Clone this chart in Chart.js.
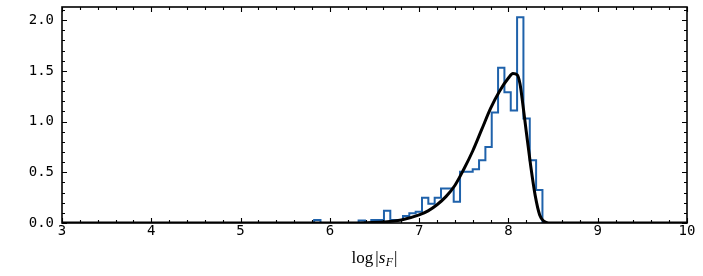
<!DOCTYPE html>
<html>
<head>
<meta charset="utf-8">
<script src="https://cdn.jsdelivr.net/npm/chart.js@4.4.1/dist/chart.umd.min.js"></script>
<style>
html, body { margin: 0; padding: 0; background: #fff; }
#wrap { width: 703px; height: 276px; }
</style>
</head>
<body>
<div id="wrap"><canvas id="chart" width="703" height="276"></canvas></div>
<script>
// histogram of log|s_F| (density)
const binEdges = [5.753, 5.824, 5.895, 5.966, 6.037, 6.108, 6.180, 6.251, 6.322, 6.393,
    6.464, 6.535, 6.606, 6.677, 6.748, 6.819, 6.890, 6.961, 7.032, 7.103,
    7.174, 7.245, 7.316, 7.387, 7.458, 7.529, 7.600, 7.671, 7.742, 7.813,
    7.884, 7.955, 8.026, 8.097, 8.168, 8.239, 8.310, 8.381];
const binHeights = [0, 0.03, 0, 0, 0, 0, 0, 0, 0.025, 0,
    0.03, 0.03, 0.12, 0.03, 0.03, 0.07, 0.095, 0.11, 0.25, 0.19,
    0.25, 0.34, 0.34, 0.21, 0.505, 0.505, 0.53, 0.62, 0.75, 1.09,
    1.53, 1.29, 1.11, 2.03, 1.03, 0.62, 0.325];

// fitted density curve
const curveX = [3, 6.0, 6.4, 6.6, 6.8, 7.0, 7.1, 7.2, 7.3, 7.4, 7.5, 7.6, 7.7, 7.8, 7.9,
    8.0, 8.05, 8.1, 8.13, 8.16, 8.2, 8.25, 8.3, 8.35, 8.4, 8.45, 10];
const curveY = [0, 0, 0.003, 0.01, 0.03, 0.08, 0.12, 0.18, 0.26, 0.37, 0.53, 0.71, 0.92, 1.13, 1.30,
    1.43, 1.475, 1.46, 1.37, 1.18, 0.9, 0.56, 0.27, 0.08, 0.015, 0, 0];

const xTicks = [3, 4, 5, 6, 7, 8, 9, 10];
const yTicks = [0, 0.5, 1.0, 1.5, 2.0];

const histPoints = [{ x: binEdges[0], y: 0 }];
binHeights.forEach((h, i) => histPoints.push({ x: binEdges[i], y: h }));
histPoints.push({ x: binEdges[binEdges.length - 1], y: 0 });

const curvePoints = curveX.map((x, i) => ({ x: x, y: curveY[i] }));

// inward ticks on all four sides, frame and the math-style x title
const framePlugin = {
    id: "frame",
    afterDraw(chart) {
        const ctx = chart.ctx;
        const a = chart.chartArea;
        const xs = chart.scales.x, ys = chart.scales.y;
        ctx.save();
        ctx.strokeStyle = "#000";
        ctx.lineWidth = 1.1;
        ctx.beginPath();
        for (let v = 3; v <= 10.0001; v += 0.2) {
            const px = Math.round(xs.getPixelForValue(v)) + 0.5;
            const major = Math.abs(v - Math.round(v)) < 1e-6;
            const len = major ? 5 : 3;
            ctx.moveTo(px, a.bottom); ctx.lineTo(px, a.bottom - len);
            ctx.moveTo(px, a.top); ctx.lineTo(px, a.top + len);
        }
        for (let v = 0; v <= 2.1301; v += 0.1) {
            const py = Math.round(ys.getPixelForValue(v)) + 0.5;
            const major = Math.abs(v * 2 - Math.round(v * 2)) < 1e-6;
            const len = major ? 5 : 3;
            ctx.moveTo(a.left, py); ctx.lineTo(a.left + len, py);
            ctx.moveTo(a.right, py); ctx.lineTo(a.right - len, py);
        }
        ctx.stroke();
        ctx.lineWidth = 1.6;
        ctx.strokeRect(a.left, a.top, a.right - a.left, a.bottom - a.top);

        // x title: log|s_F|
        const parts = [
            { t: "log", f: "17px 'Liberation Serif'", dy: 0, gap: 2 },
            { t: "|", f: "17px 'Liberation Serif'", dy: 0, gap: 0 },
            { t: "s", f: "italic 17px 'Liberation Serif'", dy: 0, gap: 0.5 },
            { t: "F", f: "italic 12px 'Liberation Serif'", dy: 3, gap: 1 },
            { t: "|", f: "17px 'Liberation Serif'", dy: 0, gap: 0 }
        ];
        let total = 0;
        parts.forEach(p => { ctx.font = p.f; p.w = ctx.measureText(p.t).width; total += p.w + p.gap; });
        let x = (a.left + a.right) / 2 - total / 2;
        const base = 263;
        ctx.fillStyle = "#000";
        ctx.textBaseline = "alphabetic";
        ctx.textAlign = "left";
        parts.forEach(p => { ctx.font = p.f; ctx.fillText(p.t, x, base + p.dy); x += p.w + p.gap; });
        ctx.restore();
    }
};

new Chart(document.getElementById("chart"), {
    type: "line",
    data: {
        datasets: [
            {
                label: "fit",
                data: curvePoints,
                borderColor: "#000",
                borderWidth: 3,
                pointRadius: 0,
                cubicInterpolationMode: "monotone",
                fill: false,
                order: 0
            },
            {
                label: "hist",
                data: histPoints,
                borderColor: "#1f62ab",
                borderWidth: 2,
                pointRadius: 0,
                stepped: "before",
                fill: false,
                order: 1
            }
        ]
    },
    options: {
        responsive: false,
        animation: false,
        devicePixelRatio: 1,
        layout: { padding: { left: 0, right: 16, top: 7, bottom: 0 } },
        plugins: { legend: { display: false }, tooltip: { enabled: false } },
        scales: {
            x: {
                type: "linear",
                min: 3,
                max: 10,
                grid: { display: false, drawTicks: false },
                border: { display: false },
                ticks: {
                    color: "#000",
                    font: { family: "DejaVu Sans Mono", size: 14 },
                    padding: 0,
                    maxRotation: 0,
                    autoSkip: false,
                    includeBounds: false
                },
                afterBuildTicks: s => { s.ticks = xTicks.map(v => ({ value: v })); },
                afterFit: s => { s.height = 53; s.paddingLeft = 0; s.paddingRight = 0; }
            },
            y: {
                type: "linear",
                min: 0,
                max: 2.13,
                grid: { display: false, drawTicks: false },
                border: { display: false },
                ticks: {
                    color: "#000",
                    font: { family: "DejaVu Sans Mono", size: 14 },
                    padding: 8,
                    autoSkip: false,
                    includeBounds: false,
                    callback: v => Number(v).toFixed(1)
                },
                afterBuildTicks: s => { s.ticks = yTicks.map(v => ({ value: v })); },
                afterFit: s => { s.width = 62; s.paddingTop = 0; s.paddingBottom = 0; }
            }
        }
    },
    plugins: [framePlugin]
});
</script>
</body>
</html>
